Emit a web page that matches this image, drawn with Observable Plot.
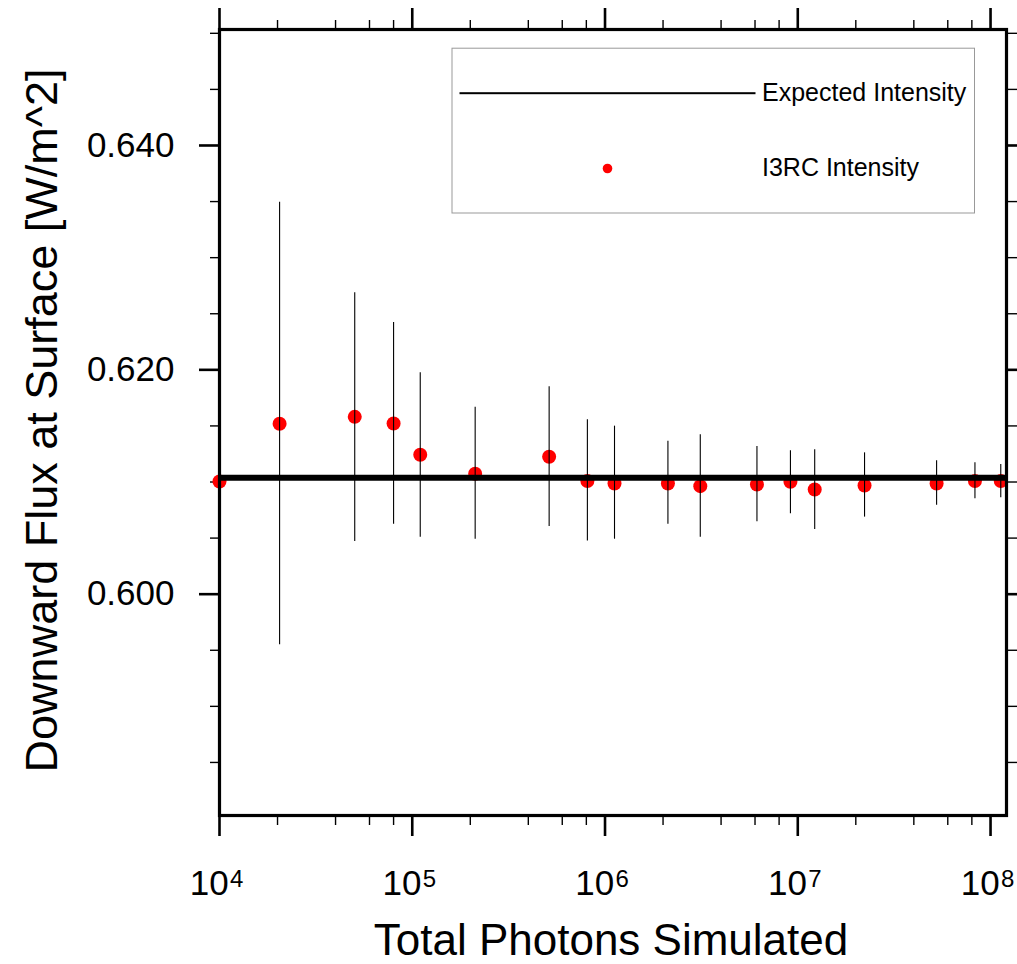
<!DOCTYPE html>
<html>
<head>
<meta charset="utf-8">
<script src="https://cdn.jsdelivr.net/npm/d3@7"></script>
<script src="https://cdn.jsdelivr.net/npm/@observablehq/plot@0.6"></script>
<style>
  html, body { margin: 0; padding: 0; background: #fff; }
  #chart svg { display: block; }
</style>
</head>
<body>
<div id="chart"></div>
<script>
// ---- data ----
const photons = [1e4, 2.05e4, 5.03e4, 8.0e4, 1.1e5, 2.12e5, 5.13e5, 8.1e5, 1.12e6, 2.12e6, 3.12e6, 6.14e6, 9.16e6, 1.224e7, 2.22e7, 5.25e7, 8.3e7, 1.13e8];
const flux    = [0.61005, 0.61519, 0.61581, 0.61522, 0.61243, 0.61073, 0.61225, 0.61008, 0.60987, 0.60987, 0.60963, 0.60978, 0.61002, 0.60933, 0.60969, 0.60987, 0.61008, 0.61008];
const fluxHigh = [null, 0.63495, 0.62687, 0.62422, 0.61974, 0.61667, 0.61849, 0.61555, 0.61498, 0.61364, 0.61421, 0.61317, 0.61278, 0.61287, 0.61260, 0.61189, 0.61171, 0.61156];
const fluxLow  = [null, 0.59549, 0.60470, 0.60624, 0.60508, 0.60490, 0.60604, 0.60473, 0.60490, 0.60624, 0.60508, 0.60645, 0.60717, 0.60577, 0.60687, 0.60793, 0.60850, 0.60859];
const expectedIntensity = 0.61038;

const xMajorTicks = [1e4, 1e5, 1e6, 1e7, 1e8];
const xMinorTicks = [2e4, 4e4, 6e4, 8e4, 2e5, 4e5, 6e5, 8e5, 2e6, 4e6, 6e6, 8e6, 2e7, 4e7, 6e7, 8e7];
const yMajorTicks = [0.600, 0.620, 0.640];
const yMinorTicks = [0.585, 0.590, 0.595, 0.605, 0.610, 0.615, 0.625, 0.630, 0.635, 0.645, 0.650];
const xDomain = [1e4, 1.21e8];
const yDomain = [0.58027, 0.65034];

const xTitle = "Total Photons Simulated";
const yTitle = "Downward Flux at Surface [W/m^2]";
const legendLabels = ["Expected Intensity", "I3RC Intensity"];

// ---- build table ----
const points = photons.map((p, i) => ({photons: p, flux: flux[i], hi: fluxHigh[i], lo: fluxLow[i]}));
const bars = points.filter(d => d.hi != null && d.lo != null);

const font = "'Liberation Sans', Arial, Helvetica, sans-serif";
const blank = () => "";

const chart = Plot.plot({
  width: 1017,
  height: 964,
  marginLeft: 219,
  marginRight: 11,
  marginTop: 29,
  marginBottom: 149,
  style: {fontFamily: font, background: "#fff", color: "#000", overflow: "visible"},
  x: {type: "log", domain: xDomain, axis: null},
  y: {domain: yDomain, axis: null},
  marks: [
    // axes ticks
    Plot.axisX({anchor: "bottom", ticks: xMajorTicks, tickSize: 21, tickFormat: blank, label: null, strokeWidth: 2.6}),
    Plot.axisX({anchor: "bottom", ticks: xMinorTicks, tickSize: 10, tickFormat: blank, label: null, strokeWidth: 1.4}),
    Plot.axisX({anchor: "top", ticks: xMajorTicks, tickSize: 22, tickFormat: blank, label: null, strokeWidth: 2.6}),
    Plot.axisX({anchor: "top", ticks: xMinorTicks, tickSize: 10, tickFormat: blank, label: null, strokeWidth: 1.4}),
    Plot.axisY({anchor: "left", ticks: yMajorTicks, tickSize: 20, tickFormat: blank, label: null, strokeWidth: 2.6}),
    Plot.axisY({anchor: "left", ticks: yMinorTicks, tickSize: 9, tickFormat: blank, label: null, strokeWidth: 1.4}),
    Plot.axisY({anchor: "right", ticks: yMajorTicks, tickSize: 11, tickFormat: blank, label: null, strokeWidth: 2.6}),
    Plot.axisY({anchor: "right", ticks: yMinorTicks, tickSize: 11, tickFormat: blank, label: null, strokeWidth: 1.4}),

    // tick labels
    Plot.text(yMajorTicks, {y: d => d, frameAnchor: "left", text: d => d3.format(".3f")(d), textAnchor: "end", dx: -45, fontSize: 35, fill: "#000"}),
    Plot.text(xMajorTicks, {x: d => d, frameAnchor: "bottom", text: () => "10", textAnchor: "end", lineAnchor: "bottom", dx: 9.2, dy: 79, fontSize: 35, fill: "#000"}),
    Plot.text(xMajorTicks, {x: d => d, frameAnchor: "bottom", text: d => String(Math.round(Math.log10(d))), textAnchor: "start", lineAnchor: "bottom", dx: 10.4, dy: 71.7, fontSize: 24, fill: "#000"}),

    // axis titles
    Plot.text([xTitle], {frameAnchor: "bottom", text: d => d, textAnchor: "middle", lineAnchor: "bottom", dx: -2, dy: 139.5, fontSize: 44, fill: "#000"}),
    Plot.text([yTitle], {frameAnchor: "left", text: d => d, textAnchor: "middle", rotate: -90, lineAnchor: "bottom", dx: -163, dy: -2, fontSize: 45, fill: "#000"}),

    // data
    Plot.dot(points, {x: "photons", y: "flux", r: 7, fill: "#ff0000", stroke: null}),
    Plot.ruleX(bars, {x: "photons", y1: "lo", y2: "hi", stroke: "#000", strokeWidth: 1.1}),
    Plot.ruleY([expectedIntensity], {stroke: "#000", strokeWidth: 6}),

    // legend
    Plot.frame({stroke: "#999", strokeWidth: 1, insetLeft: 232.5, insetTop: 18.7, insetRight: 32, insetBottom: 602.5}),
    Plot.frame({fill: "#000", stroke: null, insetLeft: 240, insetRight: 251, insetTop: 62.7, insetBottom: 721.3}),
    Plot.dot([legendLabels[1]], {frameAnchor: "top-left", dx: 388, dy: 139, r: 4.8, fill: "#ff0000", stroke: null}),
    Plot.text([legendLabels[0]], {frameAnchor: "top-left", text: d => d, textAnchor: "start", lineAnchor: "bottom", dx: 542.5, dy: 71, fontSize: 25, fill: "#000"}),
    Plot.text([legendLabels[1]], {frameAnchor: "top-left", text: d => d, textAnchor: "start", lineAnchor: "bottom", dx: 542.5, dy: 146, fontSize: 25, fill: "#000"}),

    // plot frame
    Plot.frame({stroke: "#000", strokeWidth: 3.2})
  ]
});

document.getElementById("chart").appendChild(chart);
</script>
</body>
</html>
